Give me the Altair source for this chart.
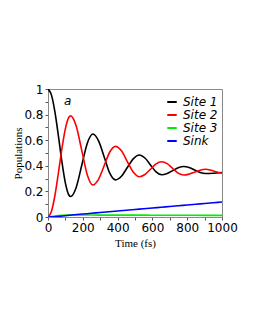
import altair as alt
import pandas as pd

# Site 1 / Site 2 sample times (fs) and populations
t12 = [0, 20, 40, 60, 80, 100, 120, 130, 162, 194, 226, 258, 290, 323, 355, 388,
       422, 456, 491, 525, 557, 589, 621, 653, 685, 716, 748, 780, 811, 842, 874,
       905, 950, 1000]
site1 = [1.0, 0.952, 0.819, 0.631, 0.431, 0.265, 0.172, 0.16, 0.231, 0.404, 0.577,
         0.648, 0.596, 0.469, 0.342, 0.29, 0.318, 0.387, 0.456, 0.484, 0.461, 0.407,
         0.353, 0.330, 0.34, 0.362, 0.385, 0.395, 0.387, 0.367, 0.348, 0.34, 0.342,
         0.348]
site2 = [0.0, 0.045, 0.17, 0.347, 0.535, 0.691, 0.779, 0.79, 0.711, 0.52, 0.329,
         0.25, 0.294, 0.401, 0.508, 0.552, 0.517, 0.433, 0.35, 0.315, 0.332, 0.373,
         0.415, 0.432, 0.417, 0.38, 0.343, 0.328, 0.335, 0.35, 0.366, 0.373, 0.36,
         0.342]

# Site 3 (green)
t3 = [0, 20, 40, 60, 80, 100, 150, 200, 300, 400, 500, 600, 700, 800, 900, 1000]
site3 = [0.0, 0.004, 0.008, 0.011, 0.013, 0.015, 0.016, 0.016, 0.015, 0.015,
         0.015, 0.014, 0.014, 0.014, 0.013, 0.013]

# Sink (blue)
ts = [0, 50, 100, 150, 200, 250, 300, 350, 400, 450, 500, 550, 600, 650, 700,
      750, 800, 850, 900, 950, 1000]
sink = [0.0, 0.004, 0.010, 0.017, 0.023, 0.029, 0.035, 0.041, 0.047, 0.053,
        0.059, 0.064, 0.070, 0.076, 0.082, 0.088, 0.094, 0.100, 0.105, 0.111, 0.117]

series_names = ["Site 1", "Site 2", "Site 3", "Sink"]
series_colors = ["#000000", "#ff0000", "#00ee00", "#0000ff"]

# panel annotation
note_text = ["a"]
note_t = [113]
note_p = [0.91]

rows = []
for t, v in zip(t12, site1):
    rows.append({"t": t, "p": v, "s": "Site 1"})
for t, v in zip(t12, site2):
    rows.append({"t": t, "p": v, "s": "Site 2"})
for t, v in zip(t3, site3):
    rows.append({"t": t, "p": v, "s": "Site 3"})
for t, v in zip(ts, sink):
    rows.append({"t": t, "p": v, "s": "Sink"})
df = pd.DataFrame(rows)
df_note = pd.DataFrame({"t": note_t, "p": note_p, "txt": note_text})

x_ticks = [0, 100, 200, 300, 400, 500, 600, 700, 800, 900, 1000]
y_ticks = [0, 0.1, 0.2, 0.3, 0.4, 0.5, 0.6, 0.7, 0.8, 0.9, 1.0]

x_axis = alt.Axis(values=x_ticks, title="Time (fs)", format="d",
                  labelExpr="datum.value % 200 === 0 ? datum.label : ''",
                  labelOverlap=False, labelFlush=False, labelBound=False,
                  titleFontWeight="normal", titleY=20, labelPadding=2)
y_axis = alt.Axis(values=y_ticks, title="Populations", format="~g",
                  labelExpr="round(datum.value*10) % 2 === 0 ? datum.label : ''",
                  labelOverlap=False, labelFlush=False, labelBound=False,
                  titleFontWeight="normal", titleX=-25, labelPadding=2)
x_scale = alt.Scale(domain=[0, 1000], nice=False)
y_scale = alt.Scale(domain=[0, 1], nice=False)

lines = alt.Chart(df).mark_line(strokeWidth=1.6, interpolate="monotone", clip=True).encode(
    x=alt.X("t:Q", scale=x_scale, axis=x_axis),
    y=alt.Y("p:Q", scale=y_scale, axis=y_axis),
    color=alt.Color("s:N", scale=alt.Scale(domain=series_names, range=series_colors),
                    sort=series_names, title=None,
                    legend=alt.Legend(orient="none", legendX=118, legendY=7,
                                      symbolType="stroke", symbolStrokeWidth=2,
                                      symbolSize=90, labelFont="DejaVu Sans",
                                      labelFontStyle="italic", labelFontSize=12,
                                      labelColor="black", labelOffset=5,
                                      rowPadding=1)),
    order=alt.Order("t:Q"),
)

label_a = alt.Chart(df_note).mark_text(font="DejaVu Sans", fontStyle="italic", fontSize=12,
                                        color="black", baseline="middle").encode(
    x=alt.X("t:Q", scale=x_scale, axis=x_axis),
    y=alt.Y("p:Q", scale=y_scale, axis=y_axis),
    text="txt:N")

chart = alt.layer(lines, label_a).properties(
    width=174, height=128,
    padding={"left": 40, "top": 81, "right": 20, "bottom": 60},
    autosize="none",
).configure_view(stroke="#888888", strokeWidth=1).configure_axis(
    labelFont="DejaVu Sans", labelFontSize=12, labelColor="black",
    titleFont="Liberation Serif", titleFontSize=11, titleFontWeight="normal",
    titleColor="black", domainColor="#888888", tickColor="#555555", tickSize=3,
    grid=False, labelOverlap=False, labelFlush=False, labelBound=False,
)

chart.save("out.html", embed_options={"renderer": "svg", "actions": False})
